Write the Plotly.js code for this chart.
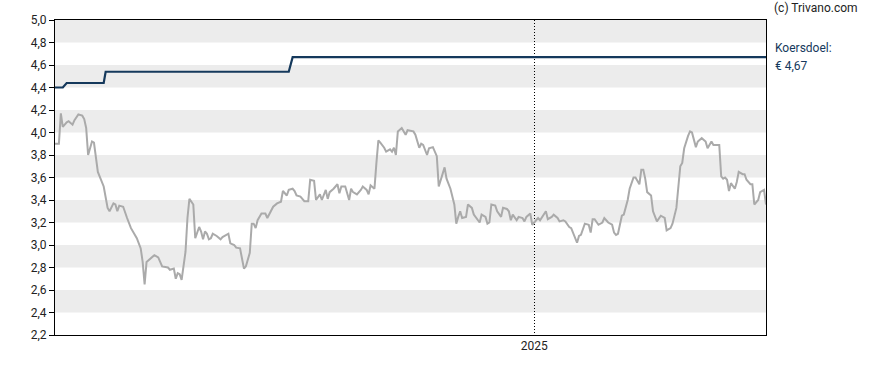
<!DOCTYPE html>
<html>
<head>
<meta charset="utf-8">
<script src="https://cdn.plot.ly/plotly-3.0.1.min.js"></script>
<style>
  html, body { margin: 0; padding: 0; background: #ffffff; }
  #chart { width: 888px; height: 370px; }
</style>
</head>
<body>
<div id="chart"></div>
<script>
// ---- Data ----
const priceDates = [
  "2024-04-30","2024-05-02","2024-05-03","2024-05-04","2024-05-06","2024-05-07","2024-05-09","2024-05-10","2024-05-12","2024-05-14",
  "2024-05-15","2024-05-16","2024-05-17","2024-05-19","2024-05-20","2024-05-21","2024-05-22","2024-05-25","2024-05-26","2024-05-27",
  "2024-05-28","2024-05-30","2024-05-31","2024-06-01","2024-06-02","2024-06-04","2024-06-06","2024-06-08","2024-06-11","2024-06-13",
  "2024-06-14","2024-06-15","2024-06-16","2024-06-19","2024-06-20","2024-06-22","2024-06-24","2024-06-27","2024-06-28","2024-06-30",
  "2024-07-01","2024-07-02","2024-07-03","2024-07-04","2024-07-06","2024-07-07","2024-07-08","2024-07-10","2024-07-11","2024-07-13",
  "2024-07-14","2024-07-15","2024-07-16","2024-07-17","2024-07-18","2024-07-19","2024-07-20","2024-07-22","2024-07-24","2024-07-25",
  "2024-07-28","2024-07-29","2024-07-31","2024-08-01","2024-08-03","2024-08-04","2024-08-05","2024-08-06","2024-08-08","2024-08-09",
  "2024-08-10","2024-08-11","2024-08-12","2024-08-14","2024-08-16","2024-08-17","2024-08-18","2024-08-20","2024-08-22","2024-08-24",
  "2024-08-25","2024-08-27","2024-08-28","2024-08-30","2024-08-31","2024-09-01","2024-09-03","2024-09-05","2024-09-07","2024-09-08",
  "2024-09-10","2024-09-11","2024-09-13","2024-09-14","2024-09-16","2024-09-17","2024-09-18","2024-09-20","2024-09-22","2024-09-23",
  "2024-09-24","2024-09-26","2024-09-28","2024-09-29","2024-09-30","2024-10-02","2024-10-04","2024-10-05","2024-10-07","2024-10-08",
  "2024-10-09","2024-10-11","2024-10-12","2024-10-13","2024-10-14","2024-10-16","2024-10-17","2024-10-19","2024-10-20","2024-10-21",
  "2024-10-22","2024-10-23","2024-10-25","2024-10-27","2024-10-28","2024-10-31","2024-11-01","2024-11-03","2024-11-04","2024-11-05",
  "2024-11-07","2024-11-08","2024-11-10","2024-11-12","2024-11-13","2024-11-15","2024-11-16","2024-11-17","2024-11-19","2024-11-21",
  "2024-11-22","2024-11-23","2024-11-24","2024-11-25","2024-11-27","2024-11-28","2024-11-30","2024-12-01","2024-12-03","2024-12-04",
  "2024-12-05","2024-12-07","2024-12-08","2024-12-09","2024-12-10","2024-12-12","2024-12-13","2024-12-15","2024-12-16","2024-12-18",
  "2024-12-19","2024-12-20","2024-12-21","2024-12-22","2024-12-23","2024-12-24","2024-12-26","2024-12-27","2024-12-28","2024-12-30",
  "2024-12-31","2025-01-01","2025-01-03","2025-01-04","2025-01-05","2025-01-07","2025-01-08","2025-01-10","2025-01-11","2025-01-13",
  "2025-01-14","2025-01-16","2025-01-17","2025-01-19","2025-01-20","2025-01-22","2025-01-23","2025-01-24","2025-01-25","2025-01-27",
  "2025-01-29","2025-01-30","2025-01-31","2025-02-01","2025-02-03","2025-02-05","2025-02-06","2025-02-08","2025-02-10","2025-02-11",
  "2025-02-12","2025-02-13","2025-02-15","2025-02-16","2025-02-18","2025-02-19","2025-02-21","2025-02-22","2025-02-24","2025-02-25",
  "2025-02-26","2025-02-27","2025-02-28","2025-03-02","2025-03-03","2025-03-05","2025-03-07","2025-03-09","2025-03-10","2025-03-12",
  "2025-03-13","2025-03-15","2025-03-16","2025-03-17","2025-03-18","2025-03-19","2025-03-21","2025-03-22","2025-03-23","2025-03-25",
  "2025-03-26","2025-03-28","2025-03-30","2025-03-31","2025-04-02","2025-04-03","2025-04-04","2025-04-06","2025-04-07","2025-04-08",
  "2025-04-09","2025-04-10","2025-04-11","2025-04-12","2025-04-14","2025-04-15","2025-04-16","2025-04-18","2025-04-19","2025-04-20",
  "2025-04-22","2025-04-23","2025-04-24","2025-04-25","2025-04-26","2025-04-27","2025-04-29","2025-04-30"
];
const priceValues = [
  3.90,3.90,4.17,4.05,4.09,4.10,4.07,4.11,4.16,4.15,
  4.12,4.04,3.80,3.92,3.91,3.785,3.65,3.52,3.43,3.33,
  3.30,3.37,3.36,3.30,3.35,3.34,3.24,3.15,3.06,2.97,
  2.85,2.65,2.85,2.89,2.91,2.89,2.81,2.80,2.78,2.79,
  2.70,2.75,2.74,2.69,2.94,3.24,3.41,3.36,3.06,3.16,
  3.12,3.05,3.12,3.10,3.05,3.06,3.10,3.08,3.05,3.07,
  3.10,3.015,3.00,2.976,2.97,2.88,2.79,2.81,2.93,3.19,
  3.19,3.15,3.22,3.28,3.28,3.24,3.27,3.34,3.37,3.385,
  3.48,3.44,3.49,3.50,3.48,3.44,3.43,3.39,3.39,3.58,
  3.57,3.40,3.45,3.40,3.49,3.41,3.47,3.50,3.54,3.46,
  3.52,3.52,3.40,3.50,3.47,3.45,3.49,3.52,3.49,3.45,
  3.53,3.50,3.73,3.93,3.91,3.865,3.83,3.85,3.83,3.865,
  3.80,4.01,4.04,3.98,4.02,4.01,3.98,3.865,3.90,3.89,
  3.80,3.86,3.87,3.79,3.52,3.64,3.69,3.59,3.50,3.36,
  3.19,3.25,3.30,3.24,3.25,3.36,3.33,3.27,3.22,3.20,
  3.27,3.25,3.19,3.20,3.36,3.35,3.30,3.25,3.33,3.32,
  3.30,3.22,3.27,3.25,3.22,3.25,3.24,3.21,3.25,3.28,
  3.18,3.20,3.24,3.22,3.25,3.30,3.23,3.25,3.27,3.24,
  3.21,3.22,3.21,3.16,3.15,3.07,3.02,3.08,3.09,3.19,
  3.18,3.11,3.23,3.23,3.18,3.20,3.24,3.20,3.18,3.11,
  3.09,3.10,3.26,3.27,3.40,3.50,3.60,3.60,3.54,3.67,
  3.67,3.59,3.47,3.44,3.30,3.21,3.26,3.24,3.13,3.15,
  3.19,3.33,3.50,3.70,3.73,3.86,3.97,4.01,4.00,3.87,
  3.92,3.95,3.92,3.86,3.92,3.89,3.89,3.89,3.61,3.59,
  3.60,3.58,3.48,3.55,3.50,3.56,3.65,3.63,3.63,3.58,
  3.54,3.54,3.36,3.38,3.40,3.47,3.49,3.36
];

const targetDates  = ["2024-04-30","2024-05-04","2024-05-06","2024-05-25","2024-05-26","2024-08-28","2024-08-30","2025-04-30"];
const targetValues = [4.40, 4.40, 4.44, 4.44, 4.54, 4.54, 4.67, 4.67];

const yTicks = [2.2,2.4,2.6,2.8,3.0,3.2,3.4,3.6,3.8,4.0,4.2,4.4,4.6,4.8,5.0];
const bandStarts = [2.4,2.8,3.2,3.6,4.0,4.4,4.8];
const xTickDates = ["2025-01-01"];
const xTickLabels = ["2025"];
const xRange = ["2024-04-30","2025-04-30"];
const yRange = [2.2, 5.0];
const targetLabel = "Koersdoel:";
const copyright = "(c) Trivano.com";

// ---- Build chart ----
const fontFam = "Roboto, Arial, sans-serif";
const lastTarget = targetValues[targetValues.length - 1];

const traces = [
  {
    x: priceDates, y: priceValues, type: "scatter", mode: "lines",
    line: { color: "#aaaaaa", width: 2 }, hoverinfo: "skip", showlegend: false
  },
  {
    x: targetDates, y: targetValues, type: "scatter", mode: "lines",
    line: { color: "#15395c", width: 2.2 }, hoverinfo: "skip", showlegend: false
  }
];

const shapes = bandStarts.map(b => ({
  type: "rect", xref: "paper", yref: "y", x0: 0, x1: 1, y0: b, y1: b + 0.2,
  fillcolor: "#ececec", line: { width: 0 }, layer: "below"
}));

const annotations = [
  {
    text: copyright, xref: "paper", yref: "paper", x: 1, y: 1,
    xanchor: "left", yanchor: "middle", xshift: 6, yshift: 12, showarrow: false,
    font: { family: fontFam, size: 12, color: "#222222" }
  },
  {
    text: targetLabel, xref: "paper", yref: "y", x: 1, y: lastTarget,
    xanchor: "left", yanchor: "middle", xshift: 7, yshift: 9, showarrow: false,
    font: { family: fontFam, size: 12, color: "#15395c" }
  },
  {
    text: "€ " + lastTarget.toFixed(2).replace(".", ","), xref: "paper", yref: "y", x: 1, y: lastTarget,
    xanchor: "left", yanchor: "middle", xshift: 7, yshift: -9, showarrow: false,
    font: { family: fontFam, size: 12, color: "#15395c" }
  }
];

const layout = {
  width: 888, height: 370,
  margin: { l: 55, r: 122, t: 20, b: 35, pad: 0 },
  paper_bgcolor: "#ffffff", plot_bgcolor: "#ffffff",
  separators: ", ",
  font: { family: fontFam, size: 12, color: "#222222" },
  showlegend: false,
  xaxis: {
    type: "date", range: xRange,
    tickmode: "array", tickvals: xTickDates, ticktext: xTickLabels,
    showgrid: true, gridcolor: "#000000", gridwidth: 1, griddash: "1px,2px",
    showline: true, linecolor: "#000000", linewidth: 1, mirror: true,
    ticks: "", zeroline: false,
    tickfont: { family: fontFam, size: 12, color: "#222222" }
  },
  yaxis: {
    range: yRange, tickmode: "array", tickvals: yTicks,
    tickformat: ".1f",
    showgrid: false, zeroline: false,
    showline: true, linecolor: "#000000", linewidth: 1, mirror: true,
    ticks: "outside", ticklen: 5, tickcolor: "#000000", tickwidth: 1,
    tickfont: { family: fontFam, size: 12, color: "#222222" }
  },
  shapes: shapes,
  annotations: annotations
};

Plotly.newPlot("chart", traces, layout, { staticPlot: true, displayModeBar: false });
</script>
</body>
</html>
